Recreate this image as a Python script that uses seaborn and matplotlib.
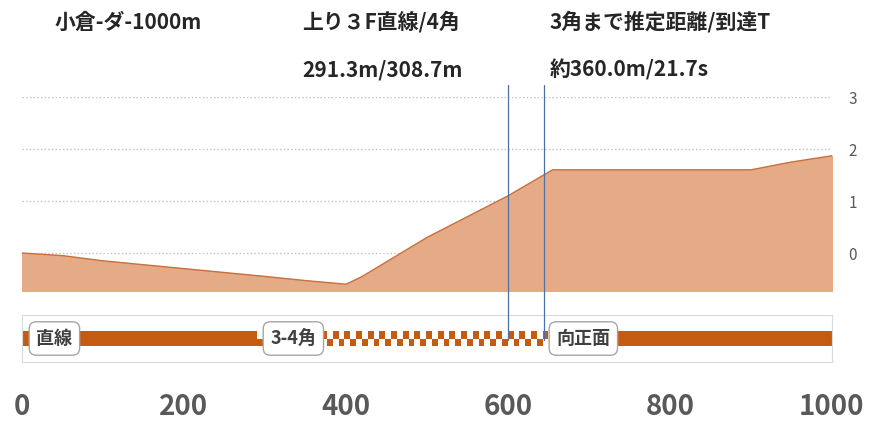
import matplotlib
matplotlib.use("Agg")
import matplotlib.pyplot as plt
import seaborn as sns
from matplotlib.patches import Rectangle

sns.set_style("white")
plt.rcParams["font.family"] = ["Noto Sans CJK JP", "DejaVu Sans"]

# elevation profile
dist = [0, 50, 100, 200, 300, 350, 400, 420, 500, 600, 655, 700, 800, 900, 950, 1000]
elev = [0.0, -0.05, -0.15, -0.3, -0.45, -0.53, -0.6, -0.45, 0.3, 1.1, 1.6, 1.6, 1.6, 1.6, 1.75, 1.87]

# course sections
sec_start = [0, 290, 650]
sec_end = [290, 650, 1000]
sec_kind = ["solid", "checker", "solid"]
sec_label = ["直線", "3-4角", "向正面"]
label_x = [40, 335, 693]

marker_x = [600, 645]
header_top = ["小倉-ダ-1000m", "上り３F直線/4角", "3角まで推定距離/到達T"]
header_bot = ["", "291.3m/308.7m", "約360.0m/21.7s"]
header_x = [55, 302, 550]

W, H = 879, 432
ORANGE = "#C55A11"
FILL = "#E5AB86"
L, R = 22 / W, 832 / W

fig = plt.figure(figsize=(W / 100, H / 100), dpi=100)

ax = fig.add_axes([L, 1 - 291 / H, R - L, (291 - 97) / H])
sns.lineplot(x=dist, y=elev, ax=ax, color="#C8703D", linewidth=1)
ax.fill_between(dist, elev, -0.73, color=FILL)
ax.set_xlim(0, 1000)
ax.set_ylim(-0.73, 3)
ax.set_yticks([0, 1, 2, 3])
ax.yaxis.tick_right()
ax.tick_params(axis="y", length=0, labelsize=11, labelcolor="#595959", pad=12)
ax.set_xticks([])
for y in [0, 1, 2, 3]:
    ax.axhline(y, color="#BFBFBF", linestyle=":", linewidth=1, zorder=0)
for s in ax.spines.values():
    s.set_visible(False)

cx = fig.add_axes([L, 1 - 362 / H, R - L, 47 / H])
cx.set_xlim(0, 1000)
cx.set_ylim(0, 1)
for s0, s1, kind in zip(sec_start, sec_end, sec_kind):
    if kind == "solid":
        cx.add_patch(Rectangle((s0, 0.33), s1 - s0, 0.34, color=ORANGE, lw=0))
    else:
        step = 7.2
        n = int((s1 - s0) / step)
        for i in range(n):
            for j in range(2):
                if (i + j) % 2 == 0:
                    cx.add_patch(Rectangle((s0 + i * step, 0.33 + j * 0.17), step, 0.17, color=ORANGE, lw=0))
for lx, lab in zip(label_x, sec_label):
    cx.text(lx, 0.5, lab, ha="center", va="center", fontsize=13, fontweight="bold", color="#404040",
            bbox=dict(boxstyle="round,pad=0.4", fc="white", ec="#A6A6A6"))
for s in cx.spines.values():
    s.set_color("#D9D9D9")
cx.set_yticks([])
cx.set_xticks([0, 200, 400, 600, 800, 1000])
cx.tick_params(axis="x", length=0, labelsize=20, labelcolor="#595959", pad=22)
for t in cx.get_xticklabels():
    t.set_fontweight("bold")

ov = fig.add_axes([L, 0, R - L, 1], facecolor="none")
ov.set_xlim(0, 1000)
ov.set_ylim(H, 0)
ov.axis("off")
for mx in marker_x:
    ov.plot([mx, mx], [85, 340], color="#4F6FA8", linewidth=0.9)
for hx, t1, t2 in zip(header_x, header_top, header_bot):
    fig.text(hx / W, 1 - 22 / H, t1, ha="left", va="center", fontsize=15, fontweight="bold")
    fig.text(hx / W, 1 - 70 / H, t2, ha="left", va="center", fontsize=15, fontweight="bold")

fig.savefig("out.png", dpi=100)
